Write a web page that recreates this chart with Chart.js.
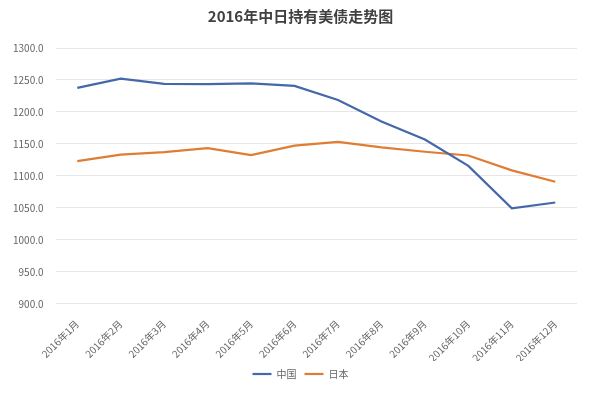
<!DOCTYPE html>
<html>
<head>
<meta charset="utf-8">
<script src="https://cdn.jsdelivr.net/npm/chart.js@4"></script>
<style>
  html, body { margin: 0; padding: 0; background: #fff; }
  #wrap { width: 600px; height: 393px; }
</style>
</head>
<body>
<div id="wrap"><canvas id="myChart"></canvas></div>
<script>
const months = ['2016年1月', '2016年2月', '2016年3月', '2016年4月', '2016年5月', '2016年6月',
  '2016年7月', '2016年8月', '2016年9月', '2016年10月', '2016年11月', '2016年12月'];
const china = [1237.6, 1252.1, 1244.0, 1243.6, 1244.8, 1240.8, 1218.8, 1185.1, 1157.0, 1115.7, 1049.3, 1058.4];
const japan = [1123.0, 1133.2, 1137.2, 1143.4, 1132.5, 1147.3, 1153.2, 1144.7, 1137.8, 1131.9, 1108.7, 1090.8];

const font = "'Noto Sans CJK SC', 'Noto Sans', sans-serif";
const grey = '#646464';

const ctx = document.getElementById('myChart').getContext('2d');
const myChart = new Chart(ctx, {
  type: 'line',
  data: {
    labels: months,
    datasets: [{
      label: '中国',
      data: china,
      borderColor: '#4468a8',
      backgroundColor: '#4468a8',
      borderWidth: 2.2,
      pointRadius: 0,
      tension: 0,
      fill: false
    }, {
      label: '日本',
      data: japan,
      borderColor: '#e07d35',
      backgroundColor: '#e07d35',
      borderWidth: 2.2,
      pointRadius: 0,
      tension: 0,
      fill: false
    }]
  },
  options: {
    responsive: true,
    maintainAspectRatio: false,
    animation: false,
    layout: { padding: { left: 1, right: 0, top: 4, bottom: 4 } },
    plugins: {
      title: {
        display: true,
        text: '2016年中日持有美债走势图',
        color: '#404040',
        font: { family: font, size: 15, weight: 'bold' },
        padding: { top: 3, bottom: 23 }
      },
      legend: {
        position: 'bottom',
        labels: {
          usePointStyle: true,
          pointStyleWidth: 19,
          pointStyle: 'line',
          color: grey,
          font: { family: font, size: 10 },
          padding: 8
        }
      },
      tooltip: { enabled: false }
    },
    scales: {
      x: {
        offset: true,
        grid: { display: false },
        border: { display: false },
        ticks: {
          color: grey,
          font: { family: font, size: 10 },
          minRotation: 45,
          maxRotation: 45,
          autoSkip: false,
          padding: 6
        },
        // keep the plot off the right edge, trim spare room under the labels
        afterFit: s => {
          s.paddingLeft = 0;
          s.paddingRight = 23;
          s.height -= 9;
        }
      },
      y: {
        min: 900,
        max: 1300,
        grid: { color: '#e6e6e6', drawTicks: false },
        border: { display: false },
        ticks: {
          stepSize: 50,
          color: grey,
          font: { family: font, size: 10 },
          padding: 12,
          callback: v => v.toFixed(1)
        }
      }
    }
  }
});
</script>
</body>
</html>
